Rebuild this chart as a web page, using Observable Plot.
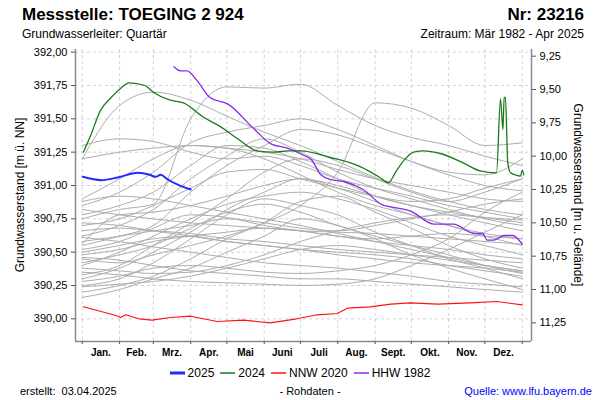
<!DOCTYPE html>
<html><head><meta charset="utf-8">
<script src="https://cdn.jsdelivr.net/npm/d3@7"></script>
<script src="https://cdn.jsdelivr.net/npm/@observablehq/plot@0.6"></script>
<style>
body{margin:0;background:#fff;font-family:"Liberation Sans",Arial,sans-serif;}
#wrap{position:relative;width:600px;height:400px;overflow:hidden;background:#fff;}
#chart{position:absolute;left:0;top:0;}
.t{position:absolute;white-space:nowrap;color:#000;}
.leg{position:absolute;left:0;width:600px;top:366px;display:flex;justify-content:center;font-size:12px;white-space:nowrap;}
.leg span.item{display:flex;align-items:center;margin:0 3px;}
.leg svg{margin-right:3px;}
</style></head><body>
<div id="wrap">
<div id="chart"></div>
<div class="t" style="left:22px;top:5px;font-size:17px;font-weight:bold">Messstelle: TOEGING 2 924</div>
<div class="t" style="right:16px;top:5px;font-size:17px;font-weight:bold">Nr: 23216</div>
<div class="t" style="left:22px;top:27px;font-size:12px">Grundwasserleiter: Quartär</div>
<div class="t" style="right:16px;top:27px;font-size:12px">Zeitraum: Mär 1982 - Apr 2025</div>
<div class="t" style="left:20px;top:195px;font-size:12px;transform:translate(-50%,-50%) rotate(-90deg)">Grundwasserstand [m ü. NN]</div>
<div class="t" style="left:578px;top:195px;font-size:12px;transform:translate(-50%,-50%) rotate(90deg)">Grundwasserstand [m u. Gelände]</div>
<div class="leg" id="legend"></div>
<div class="t" style="left:20px;top:385px;font-size:11px">erstellt:&nbsp;&nbsp;03.04.2025</div>
<div class="t" style="left:310px;top:385px;font-size:11px;transform:translateX(-50%)">- Rohdaten -</div>
<div class="t" style="right:8px;top:385px;font-size:11px;color:#0000ff">Quelle: www.lfu.bayern.de</div>
</div>
<script>
// ---- axis definitions ----
const monthStarts = [0,31,59,90,120,151,181,212,243,273,304,334,365];
const monthMids = [15.5,45,74.5,105,135.5,166,196.5,227.5,258,288.5,319,349.5];
const monthNames = ["Jan.","Feb.","Mrz.","Apr.","Mai","Juni","Juli","Aug.","Sept.","Okt.","Nov.","Dez."];
const leftTicks = [390.00,390.25,390.50,390.75,391.00,391.25,391.50,391.75,392.00];
const depthTicks = [9.25,9.50,9.75,10.00,10.25,10.50,10.75,11.00,11.25];
const groundLevel = 401.22;

// ---- highlighted series (day of year, level m ü. NN) ----
const days2025 = [0.5,16,29.5,46,56,61,65,71,82,90];
const vals2025 = [391.065,391.04,391.06,391.095,391.08,391.065,391.08,391.045,390.995,390.97];

const days2024 = [1,7,15,24,32,39,52,59,73,84,101,115,129,145,159,171,181,206,231,247,254,260,267,275,283,297,316,330,343.7,347,349,350,351.1,353,355.3,360.9,363.6,365,366.3];
const vals2024 = [391.25,391.375,391.56,391.66,391.73,391.77,391.75,391.70,391.64,391.62,391.51,391.44,391.35,391.26,391.25,391.26,391.26,391.21,391.14,391.06,391.02,391.10,391.19,391.25,391.26,391.24,391.17,391.11,391.095,391.65,391.42,391.66,391.66,391.17,391.095,391.075,391.07,391.115,391.08];

const days2020 = [1,28,32,36,47,58,73,90,112,134,156,178,195,211.5,220,239,256,272,295,322,344,365];
const vals2020 = [390.09,390.025,390.01,390.03,390.0,389.99,390.01,390.02,389.98,389.99,389.97,390.0,390.03,390.04,390.08,390.09,390.11,390.12,390.11,390.12,390.13,390.105];

const days1982 = [76,81.5,87,95,106,121,143,157,170,184,190,198,206,217,233,250,256,272,292,308,325,332,336,341,350,357,365];
const vals1982 = [391.89,391.86,391.86,391.79,391.66,391.61,391.42,391.31,391.28,391.225,391.195,391.08,391.045,391.03,390.97,390.85,390.84,390.81,390.71,390.71,390.64,390.64,390.59,390.59,390.625,390.625,390.56];

// ---- other years (grey), values at month boundaries ----
const gray01 = [390.75,390.82,390.86,391.50,391.74,391.73,391.76,391.60,391.45,391.36,391.30,391.22,391.15];
const gray02 = [390.45,390.42,390.48,390.55,390.62,390.72,390.85,391.10,391.62,391.58,391.45,391.30,391.32];
const gray03 = [391.30,391.35,391.33,391.25,391.20,391.22,391.15,391.05,390.98,390.92,390.85,390.80,390.75];
const gray04 = [390.90,391.05,391.20,391.30,391.28,391.20,391.08,390.95,390.85,390.78,390.70,390.64,390.60];
const gray05 = [390.78,390.85,390.95,391.15,391.30,391.28,391.18,391.05,390.92,390.85,390.80,390.76,390.72];
const gray06 = [390.62,390.70,390.82,391.05,391.22,391.35,391.25,391.10,390.98,390.90,390.82,390.75,390.70];
const gray07 = [390.55,390.62,390.70,390.95,391.15,391.30,391.42,391.38,391.28,391.18,391.10,391.08,391.20];
const gray08 = [390.30,390.38,390.50,390.65,390.82,390.95,391.05,390.98,390.88,390.78,390.70,390.62,390.55];
const gray09 = [390.25,390.30,390.42,390.60,390.78,390.90,390.85,390.78,390.65,390.55,390.45,390.38,390.30];
const gray10 = [390.20,390.25,390.32,390.45,390.60,390.72,390.88,390.92,390.80,390.68,390.55,390.45,390.38];
const gray11 = [390.16,390.22,390.30,390.38,390.50,390.62,390.75,390.70,390.60,390.48,390.38,390.30,390.22];
const gray12 = [390.42,390.48,390.55,390.68,390.80,390.86,390.80,390.70,390.62,390.55,390.48,390.40,390.34];
const gray13 = [390.50,390.55,390.60,390.62,390.58,390.55,390.52,390.50,390.48,390.45,390.40,390.36,390.32];
const gray14 = [390.66,390.68,390.66,390.64,390.60,390.58,390.55,390.52,390.50,390.48,390.46,390.44,390.42];
const gray15 = [390.72,390.70,390.66,390.62,390.58,390.55,390.52,390.48,390.45,390.42,390.40,390.38,390.35];
const gray16 = [390.61,390.58,390.54,390.50,390.46,390.42,390.40,390.38,390.35,390.32,390.28,390.26,390.24];
const gray17 = [390.88,390.92,390.90,390.85,390.80,390.75,390.70,390.64,390.58,390.52,390.46,390.40,390.36];
const gray18 = [390.46,390.44,390.40,390.36,390.34,390.32,390.30,390.30,390.28,390.26,390.24,390.22,390.20];
const gray19 = [390.35,390.33,390.30,390.28,390.27,390.26,390.25,390.26,390.30,390.40,390.52,390.65,390.78];
const gray20 = [390.28,390.32,390.38,390.40,390.38,390.35,390.34,390.36,390.40,390.48,390.60,390.80,390.95];
const gray21 = [390.56,390.78,390.80,390.85,390.92,391.00,391.05,391.00,390.92,390.85,390.78,390.72,390.66];
const gray22 = [390.40,390.50,390.62,390.75,390.86,390.92,390.95,390.90,390.82,390.72,390.62,390.55,390.48];
const gray23 = [390.82,390.78,390.75,390.72,390.70,390.68,390.66,390.65,390.64,390.62,390.60,390.58,390.56];
const gray24 = [390.52,390.58,390.68,390.78,390.76,390.70,390.66,390.62,390.58,390.55,390.52,390.48,390.45];
const gray25 = [390.33,390.40,390.55,390.72,390.90,391.10,391.20,391.15,391.05,390.95,390.88,390.95,391.05];
const gray26 = [390.70,390.75,390.85,390.98,391.10,391.12,391.05,390.98,390.92,390.88,390.90,390.98,391.05];
const gray27 = [391.20,391.25,391.28,391.30,391.28,391.25,391.20,391.12,391.05,391.00,390.95,390.90,390.88];
const gray28 = [390.58,390.62,390.66,390.70,390.75,390.72,390.68,390.66,390.70,390.75,390.80,390.86,390.90];
const gray29 = [390.38,390.36,390.34,390.35,390.40,390.48,390.58,390.66,390.72,390.76,390.78,390.76,390.74];
const gray30 = [390.48,390.52,390.58,390.62,390.65,390.68,390.66,390.62,390.60,390.62,390.64,390.62,390.60];
const gray31 = [390.24,390.26,390.28,390.32,390.38,390.45,390.52,390.55,390.52,390.48,390.44,390.40,390.36];
const gray32 = [390.85,390.95,391.10,391.32,391.40,391.45,391.50,391.42,391.30,391.18,391.08,391.00,390.96];
const gray33 = [391.20,391.60,391.70,391.64,391.52,391.40,391.30,391.18,391.06,390.96,390.88,390.82,390.78];

const grayLines = [gray01,gray02,gray03,gray04,gray05,gray06,gray07,gray08,gray09,gray10,gray11,gray12,gray13,gray14,gray15,gray16,gray17,gray18,gray19,gray20,gray21,gray22,gray23,gray24,gray25,gray26,gray27,gray28,gray29,gray30,gray31,gray32,gray33];

// ---- legend ----
const legendLabels = ["2025","2024","NNW 2020","HHW 1982"];
const legendColors = ["#1f2bff","#1b7a1b","#ff1010","#8c28f0"];
const legendWidths = [3,1.5,1.5,1.5];

// ---- build tables ----
const grayRows = grayLines.flatMap((vals, k) => vals.map((v, i) => ({id: k, day: monthStarts[i], level: v})));
const toRows = (days, vals) => days.map((d, i) => ({day: d, level: vals[i]}));
const rows2025 = toRows(days2025, vals2025);
const rows2024 = toRows(days2024, vals2024);
const rows2020 = toRows(days2020, vals2020);
const rows1982 = toRows(days1982, vals1982);

const fmt = d => d.toFixed(2).replace(".", ",");
const monthLabel = new Map(monthMids.map((m, i) => [m, monthNames[i]]));
const xDomain = [-5.56, 372.7];
const yDomain = [389.83, 392.02];

const chart = Plot.plot({
  width: 600, height: 400,
  marginLeft: 75, marginRight: 69, marginTop: 49, marginBottom: 59,
  x: {domain: xDomain},
  y: {domain: yDomain},
  style: {fontFamily: "'Liberation Sans', Arial, sans-serif", fontSize: "11px", color: "#000", background: "transparent", overflow: "visible"},
  marks: [
    Plot.gridY(leftTicks, {stroke: "#d2d2d2", strokeOpacity: 1, strokeDasharray: "3,3"}),
    Plot.gridX(monthStarts, {stroke: "#d2d2d2", strokeOpacity: 1, strokeDasharray: "3,3"}),
    Plot.line(grayRows, {x: "day", y: "level", z: "id", stroke: "#adadad", strokeWidth: 1, curve: "monotone-x"}),
    Plot.line(rows2020, {x: "day", y: "level", stroke: legendColors[2], strokeWidth: 1.1}),
    Plot.line(rows1982, {x: "day", y: "level", stroke: legendColors[3], strokeWidth: 1.3, curve: "monotone-x"}),
    Plot.line(rows2024, {x: "day", y: "level", stroke: legendColors[1], strokeWidth: 1.3, curve: "monotone-x"}),
    Plot.line(rows2025, {x: "day", y: "level", stroke: legendColors[0], strokeWidth: 2, curve: "monotone-x"}),
    Plot.ruleX([xDomain[0]], {stroke: "#8a8a8a", strokeWidth: 1.5}),
    Plot.ruleX([xDomain[1]], {stroke: "#8a8a8a", strokeWidth: 1.5}),
    Plot.ruleY([yDomain[0]], {stroke: "#8a8a8a", strokeWidth: 1.5}),
    Plot.axisY(leftTicks, {anchor: "left", tickSize: 4, tickPadding: 4, tickFormat: fmt, label: null, fontSize: 11, stroke: "#555"}),
    Plot.axisY(depthTicks.map(d => groundLevel - d), {anchor: "right", tickSize: 4, tickPadding: 4, tickFormat: v => fmt(groundLevel - v), label: null, fontSize: 11, stroke: "#555"}),
    Plot.axisX(monthStarts, {anchor: "bottom", tickSize: 3, tickFormat: () => "", label: null, stroke: "#555"}),
    Plot.axisX(monthMids, {anchor: "bottom", tickSize: 0, tickPadding: 7, tickFormat: d => monthLabel.get(d), label: null, fontSize: 10, fontWeight: "bold"})
  ]
});
document.getElementById("chart").appendChild(chart);

const leg = document.getElementById("legend");
const svgNS = "http://www.w3.org/2000/svg";
legendLabels.forEach((lab, i) => {
  const item = document.createElement("span");
  item.className = "item";
  const sw = document.createElementNS(svgNS, "svg");
  sw.setAttribute("width", "15");
  sw.setAttribute("height", "6");
  const ln = document.createElementNS(svgNS, "line");
  ln.setAttribute("x1", "0"); ln.setAttribute("x2", "15");
  ln.setAttribute("y1", "3"); ln.setAttribute("y2", "3");
  ln.setAttribute("stroke", legendColors[i]);
  ln.setAttribute("stroke-width", String(legendWidths[i]));
  sw.appendChild(ln);
  item.appendChild(sw);
  item.appendChild(document.createTextNode(lab));
  leg.appendChild(item);
});
</script>
</body></html>
